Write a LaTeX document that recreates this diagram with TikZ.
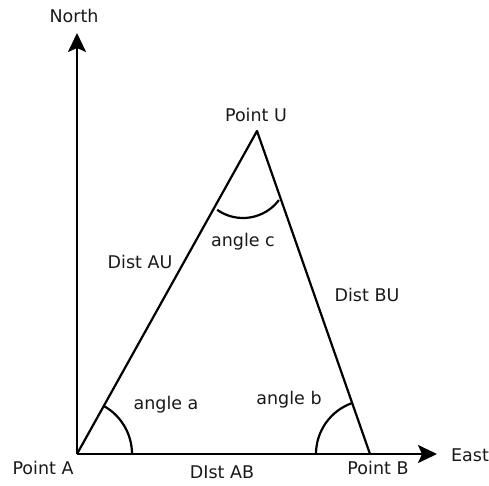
\documentclass[tikz,border=0pt]{standalone}
\usepackage{fontspec}
\setmainfont{DejaVu Sans}
\usepackage{xcolor}
\usepackage{tikz}
\usetikzlibrary{arrows.meta,positioning,calc}
\tikzset{
  lbl/.style={font=\fontsize{17.5}{19}\selectfont, inner sep=0pt, text=black!90},
  side/.style={draw=black, line width=2.2pt, line join=round},
  axis/.style={draw=black, line width=2.2pt,
               -{Stealth[length=19pt, width=18pt, inset=4pt]}},
  anglemark/.style={draw=black, line width=2.2pt},
}

\begin{document}
\begin{tikzpicture}[x=1pt, y=1pt]
  \useasboundingbox (0,0) rectangle (489,485);
  % corners
  \coordinate (ptA) at (77,31);
  \coordinate (ptB) at (370,31);
  \coordinate (ptU) at (257,354);
  \coordinate (north) at (77,452);
  \coordinate (east) at (437,31);
  \coordinate (cc) at (243,312);
  % axes
  \draw[axis] (ptA) -- (north);
  \draw[axis] (ptA) -- (east);
  % triangle
  \draw[side] (ptA) -- (ptU) -- (ptB);
  % angle arcs
  \draw[anglemark] ([shift={(0:55)}]ptA) arc (0:61:55);
  \draw[anglemark] ([shift={(180:54)}]ptB) arc (180:109:54);
  \draw[anglemark] ([shift={(235:45)}]cc) arc (235:323:45);
  % labels
  \node[lbl] (northlbl) at (74,469) {North};
  \node[lbl] (eastlbl) at (470,30) {East};
  \node[lbl] (ulbl) at (256,370) {Point U};
  \node[lbl] (albl) at (43,17) {Point A};
  \node[lbl] (blbl) at (378,17) {Point B};
  \node[lbl] (ablbl) at (222,13) {DIst AB};
  \node[lbl] (aulbl) at (140,223) {Dist AU};
  \node[lbl] (bulbl) at (367,190) {Dist BU};
  \node[lbl] (clbl) at (243,243) {angle c};
  \node[lbl] (albla) at (166,80) {angle a};
  \node[lbl] (blblb) at (289,85) {angle b};
\end{tikzpicture}
\end{document}
